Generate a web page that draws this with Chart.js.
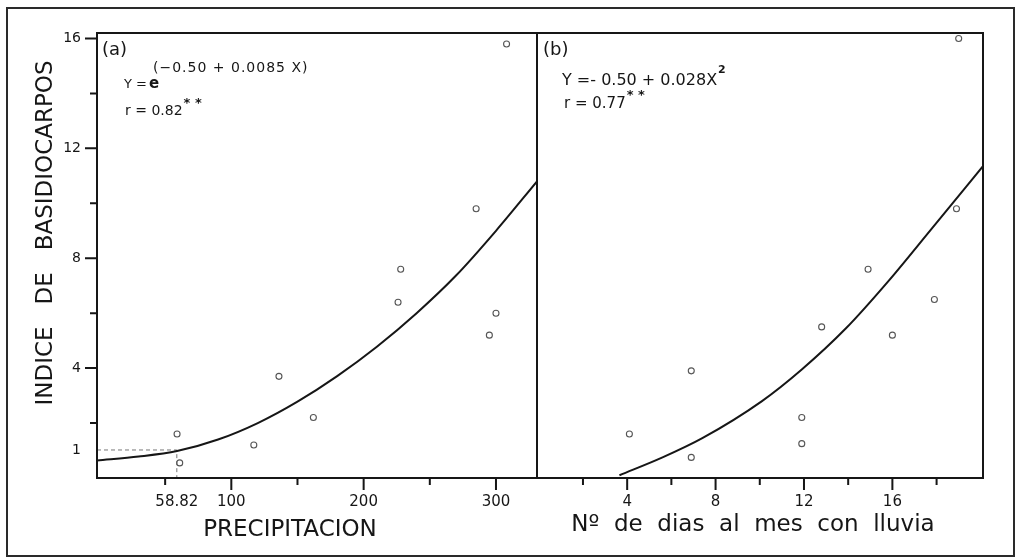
<!DOCTYPE html>
<html><head><meta charset="utf-8">
<script src="https://cdn.jsdelivr.net/npm/chart.js@4/dist/chart.umd.min.js"></script>
<style>
html,body{margin:0;padding:0;background:#fff;}
#wrap{position:relative;width:1018px;height:560px;overflow:hidden;background:#fff;}
#frame{position:absolute;left:6px;top:7px;width:1005px;height:546px;border:2px solid #2a2a2a;}
canvas{position:absolute;left:0;top:0;}
</style></head><body>
<div id="wrap"><div id="frame"></div>
<canvas id="ca" width="1018" height="560"></canvas>
<canvas id="cb" width="1018" height="560"></canvas>
</div>
<script>
// ---- data ----
const precipitacion = [308, 285, 228, 226, 300, 295, 136, 162, 117, 59, 61];
const indiceA       = [15.8, 9.8, 7.6, 6.4, 6.0, 5.2, 3.7, 2.2, 1.2, 1.6, 0.55];
const diasLluvia    = [19.0, 18.9, 14.9, 12.8, 16.0, 17.9, 6.9, 4.1, 6.9, 11.9, 11.9];
const indiceB       = [16.0, 9.8, 7.6, 5.5, 5.2, 6.5, 3.9, 1.6, 0.75, 2.2, 1.25];

const curvaA_x = [-1.5, 30, 59, 90, 120, 150, 180, 210, 240, 270, 300, 331];
const curvaA_y = [0.64, 0.78, 0.98, 1.40, 2.00, 2.78, 3.71, 4.78, 6.00, 7.38, 9.00, 10.80];
const curvaB_x = [3.65, 5.6, 7.4, 10.1, 11.9, 13.9, 15.8, 17.8, 20.1];
const curvaB_y = [0.1, 0.75, 1.45, 2.8, 3.95, 5.45, 7.15, 9.1, 11.35];

const guiaA_x = [-1.5, 58.82, 58.82];
const guiaA_y = [1.02, 1.02, 0];

const yTicks = [1, 4, 8, 12, 16];
const yMajor = [4, 8, 12, 16];
const yMinor = [2, 6, 10, 14];
const xTicksA = [58.82, 100, 200, 300];
const xTicksA_labels = ['58.82', '100', '200', '300'];
const xMajorA = [100, 200, 300];
const xMinorA = [50, 150, 250];
const xTicksB = [4, 8, 12, 16];
const xMinorB = [2, 6, 10, 14, 18];

const FONT = "'DejaVu Sans', sans-serif";
const INK = '#161616';

function pts(xs, ys) { return xs.map((x, i) => ({ x: x, y: ys[i] })); }

function drawTicks(chart, id, list, len) {
  const s = chart.scales[id], ctx = chart.ctx, ca = chart.chartArea;
  ctx.beginPath();
  list.forEach(v => {
    const p = s.getPixelForValue(v);
    if (id === 'x') { ctx.moveTo(p, ca.bottom); ctx.lineTo(p, ca.bottom + len); }
    else { ctx.moveTo(ca.left, p); ctx.lineTo(ca.left - len, p); }
  });
  ctx.stroke();
}

function txt(ctx, s, x, y, font, opt) {
  ctx.font = font;
  ctx.letterSpacing = (opt && opt.ls) || '0px';
  ctx.textAlign = (opt && opt.align) || 'left';
  ctx.fillText(s, x, y);
  const w = ctx.measureText(s).width;
  ctx.letterSpacing = '0px';
  return w;
}

const framePlugin = {
  id: 'framePlugin',
  afterDraw(chart, args, o) {
    const ctx = chart.ctx, ca = chart.chartArea;
    ctx.save();
    ctx.strokeStyle = INK; ctx.fillStyle = INK; ctx.lineWidth = 2;
    ctx.strokeRect(ca.left, ca.top, ca.right - ca.left, ca.bottom - ca.top);
    drawTicks(chart, 'x', o.xMajor, 12);
    drawTicks(chart, 'x', o.xMinor, 7);
    if (o.yMajor) { drawTicks(chart, 'y', o.yMajor, 12); drawTicks(chart, 'y', o.yMinor, 7); }
    ctx.textBaseline = 'alphabetic';
    o.draw(ctx);
    ctx.restore();
  }
};

function baseScales(xmin, xmax, xt, xlabels, showY) {
  return {
    x: {
      type: 'linear', min: xmin, max: xmax,
      grid: { display: false, drawTicks: false }, border: { display: false },
      afterBuildTicks: s => { s.ticks = xt.map(v => ({ value: v })); },
      afterFit: s => { s.height = 82; },
      ticks: { color: INK, font: { family: FONT, size: 15 }, padding: 15, maxRotation: 0, autoSkip: false,
        callback: (v) => { const i = xt.indexOf(v); return xlabels ? xlabels[i] : String(v); } }
    },
    y: {
      type: 'linear', min: 0, max: 16.2, display: showY,
      grid: { display: false, drawTicks: false }, border: { display: false },
      afterBuildTicks: s => { s.ticks = yTicks.map(v => ({ value: v })); },
      afterFit: s => { s.width = showY ? 97 : 0; },
      ticks: { color: INK, font: { family: FONT, size: 14 }, padding: 16, autoSkip: false,
        callback: v => String(v) }
    }
  };
}

function datasets(xs, ys, cx, cy, gx, gy) {
  const d = [
    { data: pts(cx, cy), showLine: true, borderColor: INK, borderWidth: 2, pointRadius: 0,
      cubicInterpolationMode: 'monotone', fill: false },
    { data: pts(xs, ys), showLine: false, pointRadius: 3, pointBorderWidth: 1.1,
      borderColor: '#555', backgroundColor: 'rgba(0,0,0,0)', pointBackgroundColor: 'rgba(0,0,0,0)' }
  ];
  if (gx) d.push({ data: pts(gx, gy), showLine: true, borderColor: '#777', borderWidth: 1,
      borderDash: [4, 3], pointRadius: 0, fill: false });
  return d;
}

const common = {
  responsive: false, animation: false, events: [],
  plugins: { legend: { display: false }, tooltip: { enabled: false } }
};

new Chart(document.getElementById('ca'), {
  type: 'scatter',
  data: { datasets: datasets(precipitacion, indiceA, curvaA_x, curvaA_y, guiaA_x, guiaA_y) },
  options: Object.assign({}, common, {
    layout: { padding: { left: 0, top: 33, right: 481, bottom: 0 } },
    scales: baseScales(-1.5, 331, xTicksA, xTicksA_labels, true),
    plugins: Object.assign({}, common.plugins, {
      framePlugin: {
        xMajor: xMajorA, xMinor: xMinorA, yMajor: yMajor, yMinor: yMinor,
        draw: ctx => {
          ctx.save();
          ctx.translate(52, 233); ctx.rotate(-Math.PI / 2);
          txt(ctx, 'INDICE   DE   BASIDIOCARPOS', 0, 0, '23px ' + FONT, { align: 'center' });
          ctx.restore();
          txt(ctx, 'PRECIPITACION', 290, 536, '23px ' + FONT, { align: 'center' });
          txt(ctx, '(a)', 102, 55, '18px ' + FONT);
          let w = txt(ctx, 'Y =', 124, 88, '13px ' + FONT);
          txt(ctx, 'e', 124 + w + 2, 88, 'bold 15px ' + FONT);
          txt(ctx, '(\u22120.50 + 0.0085 X)', 153, 72, '14px ' + FONT, { ls: '1px' });
          w = txt(ctx, 'r = 0.82', 125, 115, '14px ' + FONT);
          txt(ctx, '* *', 125 + w + 1, 107, 'bold 13px ' + FONT);
        }
      }
    })
  }),
  plugins: [framePlugin]
});

new Chart(document.getElementById('cb'), {
  type: 'scatter',
  data: { datasets: datasets(diasLluvia, indiceB, curvaB_x, curvaB_y) },
  options: Object.assign({}, common, {
    layout: { padding: { left: 537, top: 33, right: 35, bottom: 0 } },
    scales: baseScales(-0.08, 20.1, xTicksB, null, false),
    plugins: Object.assign({}, common.plugins, {
      framePlugin: {
        xMajor: xTicksB, xMinor: xMinorB,
        draw: ctx => {
          txt(ctx, 'N\u00BA  de  dias  al  mes  con  lluvia', 753, 531, '23px ' + FONT, { align: 'center' });
          txt(ctx, '(b)', 543, 55, '18px ' + FONT);
          let w = txt(ctx, 'Y =- 0.50 + 0.028X', 562, 85, '16px ' + FONT);
          txt(ctx, '2', 562 + w + 1, 73, 'bold 11px ' + FONT);
          w = txt(ctx, 'r = 0.77', 564, 108, '15px ' + FONT);
          txt(ctx, '* *', 564 + w + 1, 99, 'bold 13px ' + FONT);
        }
      }
    })
  }),
  plugins: [framePlugin]
});
</script>
</body></html>
